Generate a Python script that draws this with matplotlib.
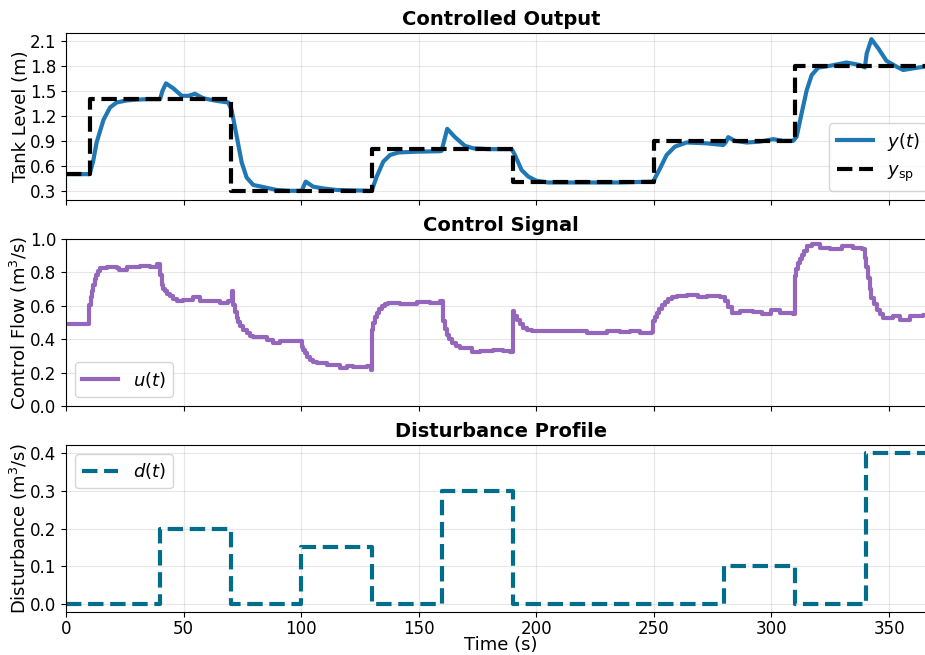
import numpy as np
import matplotlib.pyplot as plt

# setpoint schedule (step changes)
sp_time = [0, 10, 70, 130, 190, 250, 310, 370]
sp_level = [0.5, 1.4, 0.3, 0.8, 0.4, 0.9, 1.8, 1.8]

# measured tank level
y_time = [0, 10, 11.5, 13, 15.9, 18.7, 21.5, 25.8, 30, 35, 40, 41, 42.5, 45.6, 49.2, 52,
          54.8, 58.4, 64, 69, 70.4, 72.6, 74.7, 76.8, 79.6, 83.9, 89.6, 95, 100.2, 101.9,
          105.1, 109, 115, 122, 130, 132.1, 134.9, 137.8, 141.3, 149.1, 159, 159.7, 162.1,
          165.4, 169.6, 173.2, 180, 189.5, 190.9, 193.7, 196.6, 200.1, 205, 220, 235, 249.7,
          252.6, 255.4, 258.9, 263.9, 272.4, 279.5, 280.5, 281.6, 284.4, 289.4, 295, 300.7,
          305, 309.2, 310.7, 312.8, 315, 317.1, 319.9, 324.8, 331.9, 337.6, 339.7, 340.5,
          342.5, 345.4, 348.9, 353.2, 356, 360.2, 365, 370]
y_level = [0.50, 0.50, 0.65, 0.88, 1.15, 1.30, 1.36, 1.385, 1.395, 1.40, 1.40, 1.50, 1.59,
           1.53, 1.44, 1.44, 1.465, 1.41, 1.38, 1.36, 1.27, 0.95, 0.64, 0.46, 0.37, 0.345,
           0.31, 0.30, 0.30, 0.41, 0.35, 0.33, 0.31, 0.305, 0.30, 0.47, 0.65, 0.73, 0.76,
           0.77, 0.775, 0.78, 1.044, 0.944, 0.84, 0.81, 0.80, 0.80, 0.73, 0.55, 0.47, 0.42,
           0.40, 0.40, 0.40, 0.41, 0.57, 0.73, 0.83, 0.88, 0.87, 0.85, 0.88, 0.944, 0.90,
           0.88, 0.89, 0.92, 0.90, 0.90, 0.95, 1.23, 1.51, 1.69, 1.78, 1.80, 1.84, 1.81,
           1.78, 1.95, 2.12, 2.01, 1.86, 1.79, 1.75, 1.77, 1.79, 1.79]

# controller output (zero-order hold)
u_time = [0, 9.9, 10.4, 10.9, 11.6, 12.2, 12.8, 13.6, 14.5, 17.3, 21.5, 22.7, 25.8, 31.5, 35.7,
          38.8, 40, 40.7, 41.4, 42.1, 43.1, 44.2, 45.6, 47.1, 49.9, 54.1, 57, 61.2, 65.5, 69,
          70.4, 71.1, 71.8, 72.6, 73.3, 74, 75.4, 76.8, 78.2, 79.6, 85.3, 88.1, 91, 96.6,
          99.2, 100.2, 100.9, 101.6, 102.6, 103.7, 105.1, 106.6, 110.8, 116.5, 119.3, 122.2,
          127.8, 129.5, 130, 130.7, 131.4, 132.1, 133.1, 134.2, 135.6, 137, 142, 149.1, 154.8,
          159, 160.2, 161, 161.8, 162.9, 164, 165.7, 167.5, 172.5, 176, 181.7, 185.9, 189,
          189.9, 190.7, 191.6, 193, 194.4, 196.2, 198, 208.6, 221.4, 230, 235.7, 239.8, 244,
          249, 249.7, 250.4, 251.1, 252.2, 253.3, 254.7, 256.1, 257.9, 259.7, 263.9, 268.8,
          272.4, 278, 280.2, 281.6, 283, 286.6, 292.2, 295.8, 300, 303.6, 309.2, 309.9, 310.6,
          311.3, 312, 312.8, 313.9, 315, 317.1, 320.6, 324.8, 329.8, 334.7, 338.3, 339.7,
          340.4, 341.1, 341.8, 342.5, 343.6, 344.7, 346.1, 347.5, 351.7, 354.6, 358.8, 364.5,
          370]
u_flow = [0.49, 0.606, 0.65, 0.686, 0.726, 0.76, 0.786, 0.81, 0.826, 0.832, 0.826, 0.816,
          0.832, 0.836, 0.832, 0.85, 0.786, 0.726, 0.70, 0.686, 0.67, 0.656, 0.64, 0.626,
          0.636, 0.652, 0.63, 0.626, 0.616, 0.626, 0.69, 0.606, 0.56, 0.526, 0.50, 0.476,
          0.455, 0.436, 0.42, 0.41, 0.396, 0.376, 0.386, 0.39, 0.386, 0.356, 0.335, 0.316,
          0.295, 0.276, 0.265, 0.256, 0.246, 0.23, 0.24, 0.236, 0.24, 0.216, 0.456, 0.496,
          0.53, 0.556, 0.58, 0.596, 0.608, 0.616, 0.61, 0.62, 0.616, 0.626, 0.506, 0.46,
          0.426, 0.40, 0.376, 0.36, 0.346, 0.322, 0.33, 0.336, 0.33, 0.326, 0.57, 0.54, 0.516,
          0.49, 0.466, 0.455, 0.446, 0.446, 0.436, 0.446, 0.44, 0.446, 0.436, 0.44, 0.506,
          0.53, 0.556, 0.58, 0.606, 0.625, 0.642, 0.652, 0.66, 0.666, 0.65, 0.66, 0.65,
          0.626, 0.59, 0.556, 0.566, 0.56, 0.55, 0.576, 0.556, 0.55, 0.776, 0.82, 0.856,
          0.88, 0.906, 0.93, 0.956, 0.97, 0.946, 0.94, 0.956, 0.946, 0.94, 0.886, 0.83, 0.766,
          0.70, 0.646, 0.61, 0.576, 0.55, 0.526, 0.536, 0.516, 0.536, 0.546, 0.546]

# disturbance inflow profile
d_time = [0, 40, 70, 100, 130, 160, 190, 280, 310, 340, 370]
d_flow = [0, 0.2, 0, 0.15, 0, 0.3, 0, 0.1, 0, 0.4, 0.4]

fig = plt.figure(figsize=(9.25, 6.55), dpi=100)
left, width, height = 0.0714, 0.9406, 0.255
ax1 = fig.add_axes([left, 0.6947, width, height])
ax2 = fig.add_axes([left, 0.3802, width, height], sharex=ax1)
ax3 = fig.add_axes([left, 0.0656, width, height], sharex=ax1)

lw = 3
ax1.plot(y_time, y_level, color='#1f77b4', lw=lw, label=r'$y(t)$')
ax1.plot(sp_time, sp_level, color='black', lw=lw, ls='--', drawstyle='steps-post',
         label=r'$y_{\rm sp}$')
ax1.set_ylim(0.19, 2.195)
ax1.set_yticks([0.3, 0.6, 0.9, 1.2, 1.5, 1.8, 2.1])
ax1.set_ylabel('Tank Level (m)', fontsize=13, labelpad=0)
ax1.set_title('Controlled Output', fontsize=14, fontweight='bold')
ax1.legend(loc='lower right', fontsize=13)

ax2.plot(u_time, u_flow, color='#9467bd', lw=lw, drawstyle='steps-post', label=r'$u(t)$')
ax2.set_ylim(0, 1.0)
ax2.set_ylabel(r'Control Flow (m$^3$/s)', fontsize=13, labelpad=0)
ax2.set_title('Control Signal', fontsize=14, fontweight='bold')
ax2.legend(loc='lower left', fontsize=13)

ax3.plot(d_time, d_flow, color='#006d8a', lw=lw, ls='--', drawstyle='steps-post',
         label=r'$d(t)$')
ax3.set_ylim(-0.02, 0.42)
ax3.set_ylabel(r'Disturbance (m$^3$/s)', fontsize=13, labelpad=0)
ax3.set_title('Disturbance Profile', fontsize=14, fontweight='bold')
ax3.set_xlabel('Time (s)', fontsize=13, labelpad=-2)
ax3.legend(loc='upper left', fontsize=13)

ax1.set_xlim(0, 370)
for ax in (ax1, ax2, ax3):
    ax.grid(True, alpha=0.3)
    ax.tick_params(labelsize=12)
for ax in (ax1, ax2):
    ax.tick_params(labelbottom=False)
ax3.tick_params(axis='x', pad=2.5)
fig.align_ylabels([ax1, ax2, ax3])

fig.savefig('out.png', dpi=100)
